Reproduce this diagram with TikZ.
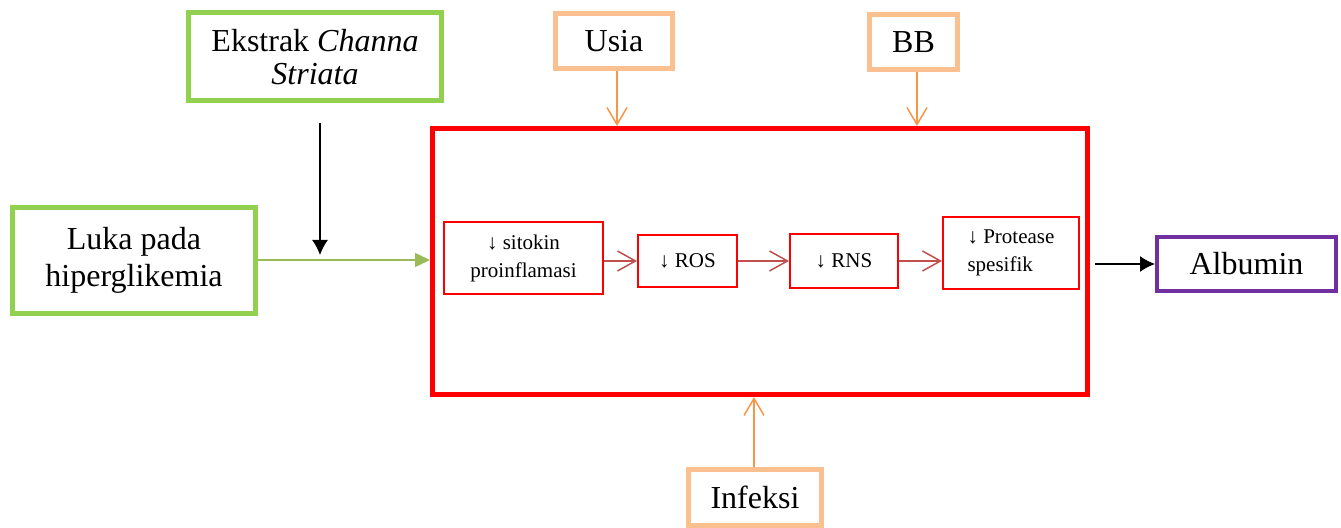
\documentclass[tikz,border=0pt]{standalone}
\usepackage{fontspec}
\setmainfont{Liberation Serif}
\usetikzlibrary{arrows.meta,positioning}
\definecolor{grn}{HTML}{92D050}
\definecolor{grnline}{HTML}{9BBB59}
\definecolor{org}{HTML}{FAC090}
\definecolor{orgline}{HTML}{F79646}
\definecolor{redline}{HTML}{C0504D}
\definecolor{pur}{HTML}{7030A0}
\tikzset{
  outbox/.style={draw,line width=2.5pt,inner sep=2pt,align=center,font=\fontsize{16}{17.5}\selectfont},
  greenbox/.style={outbox,draw=grn},
  factbox/.style={outbox,draw=org},
  mainbox/.style={draw=red,line width=2.5pt,inner sep=0pt},
  stepbox/.style={draw=red,line width=1pt,inner sep=2pt,align=center,font=\fontsize{10.5}{14}\selectfont},
  resbox/.style={outbox,draw=pur,line width=2pt},
  edge/.style={-{Latex[length=7.5pt,width=8pt]},line width=0.75pt},
  gedge/.style={-{Triangle[length=7.5pt,width=7pt]},line width=0.75pt,draw=grnline,fill=grnline},
  oedge/.style={-{Straight Barb[length=8.5pt,width=10pt]},line width=0.75pt,draw=orgline},
  redge/.style={-{Straight Barb[length=9pt,width=10pt]},line width=0.75pt,draw=redline}
}

\begin{document}
\begin{tikzpicture}[x=0.5pt,y=-0.5pt]
\useasboundingbox (0,0) rectangle (1341,528);
% input boxes
\node[greenbox,minimum width=126.5pt,minimum height=44pt,font=\fontsize{16}{16.5}\selectfont] (ekstrak) at (315,57) {Ekstrak \textit{Channa}\\\textit{Striata}};
\node[greenbox,minimum width=121.5pt,minimum height=53pt,font=\fontsize{16}{18.5}\selectfont] (luka) at (134,260.5) {Luka pada\\hiperglikemia};
\node[factbox,minimum width=58.5pt,minimum height=27.5pt] (usia) at (614,41) {Usia};
\node[factbox,minimum width=44pt,minimum height=27.5pt] (bb) at (913.5,42) {BB};
\node[factbox,minimum width=66.5pt,minimum height=28pt] (infeksi) at (755,497.5) {Infeksi};
% main frame
\node[mainbox,minimum width=327.5pt,minimum height=133pt] (frame) at (760,261.5) {};
\node[stepbox,minimum width=79.5pt,minimum height=36pt] (sitokin) at (523.5,258) {↓ sitokin\\proinflamasi};
\node[stepbox,minimum width=49.5pt,minimum height=26pt] (ros) at (687.5,261) {↓ ROS};
\node[stepbox,minimum width=54pt,minimum height=27pt] (rns) at (844,261) {↓ RNS};
\node[stepbox,minimum width=68pt,minimum height=36pt,align=left] (protease) at (1011,253) {↓ Protease\\spesifik};
% output
\node[resbox,minimum width=89.5pt,minimum height=27pt] (albumin) at (1246.5,264) {Albumin};
\coordinate (etop) at (320,123);
\coordinate (ebot) at (320,255);
\coordinate (fout) at (1095,264);

\draw[gedge] (luka.east |- 0,260) -- (frame.west |- 0,260);
\draw[edge] (etop) -- (ebot);
\draw[oedge] (usia.south -| 617,0) -- (frame.north -| 617,0);
\draw[oedge] (bb.south -| 917,0) -- (frame.north -| 917,0);
\draw[oedge] (infeksi.north -| 754,0) -- (frame.south -| 754,0);
\draw[redge] (sitokin.east |- ros.west) -- (ros.west);
\draw[redge] (ros.east) -- (rns.west);
\draw[redge] (rns.east) -- (rns.east -| protease.west);
\draw[edge] (fout) -- (albumin.west);
\end{tikzpicture}
\end{document}
